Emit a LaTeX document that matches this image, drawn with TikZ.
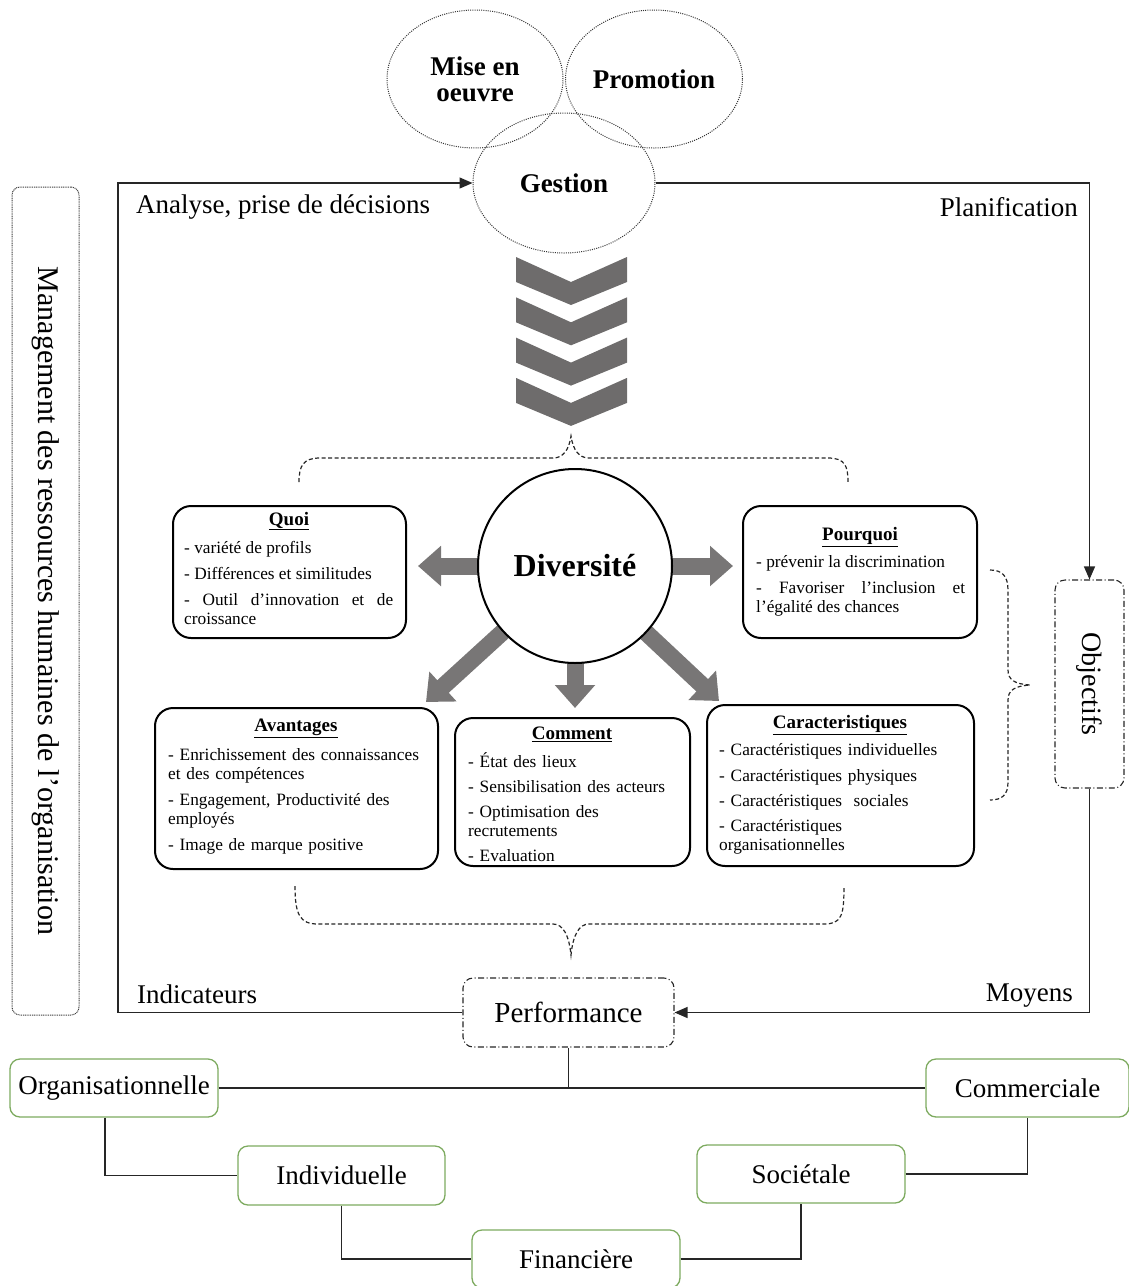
\documentclass[tikz,border=0pt]{standalone}
\usepackage{fontspec}
\setmainfont{Liberation Serif}
\usetikzlibrary{shapes.geometric,arrows.meta,calc}
\definecolor{chevgray}{RGB}{110,108,108}
\definecolor{arrgray}{RGB}{120,118,118}
\definecolor{boxgreen}{RGB}{125,170,95}
\begin{document}
\begin{tikzpicture}[x=1pt,y=-1pt,
  ell/.style={ellipse, draw=black!80, line width=1pt, dash pattern=on 1pt off 1.2pt, font=\fontsize{27}{28}\selectfont\bfseries, align=center, inner sep=0pt},
  loopline/.style={draw=black!85, line width=1.3pt},
  tipped/.style={-{Triangle[length=13pt,width=11pt]}},
  mgmt/.style={draw=black!75, line width=1pt, dash pattern=on 1pt off 0.8pt, rounded corners=8pt},
  ddbox/.style={draw=black!85, line width=1.1pt, dash pattern=on 6pt off 2.5pt on 1pt off 2.5pt, rounded corners=10pt},
  bracepath/.style={draw=black!85, line width=1.2pt, dash pattern=on 4pt off 2.5pt},
  infobox/.style={draw=black, line width=2pt, rounded corners=18pt},
  ttl/.style={font=\fontsize{19}{22}\selectfont\bfseries, inner sep=0pt},
  items/.style={font={\fontsize{17.3}{19}\selectfont\hyphenpenalty=10000\relax}, inner sep=0pt, anchor=north west},
  blockarr/.style={draw=arrgray, line width=17pt, -{Triangle[length=23pt,width=39pt]}},
  grbox/.style={draw=boxgreen, line width=1.3pt, rounded corners=10pt, minimum width=208pt, minimum height=58pt, font=\fontsize{27}{28}\selectfont},
  lbl/.style={font=\fontsize{27}{28}\selectfont, inner sep=0pt}
]
\useasboundingbox (0,0) rectangle (1129,1286);

% top ellipses
\node[ell, minimum width=176pt, minimum height=138pt] (mise) at (475,79) {Mise en\\[-2pt]oeuvre};
\node[ell, minimum width=177pt, minimum height=138pt] (promo) at (654,79) {Promotion};
\node[ell, minimum width=182pt, minimum height=140pt] (gest) at (564,183) {Gestion};

% management box
\node[mgmt, minimum width=67pt, minimum height=828pt] (mgmtbox) at (45.5,601) {};
\node[rotate=-90, font=\fontsize{30}{31}\selectfont] (mgmttxt) at (mgmtbox) {Management des ressources humaines de l’organisation};

% objectifs
\node[ddbox, minimum width=69pt, minimum height=208pt] (obj) at (1089.5,684) {};
\node[rotate=-90, font=\fontsize{28}{30}\selectfont] (objtxt) at (obj) {Objectifs};

% performance
\node[ddbox, minimum width=211pt, minimum height=69pt, font=\fontsize{29}{30}\selectfont] (perf) at (568.5,1012.5) {Performance};

% main loop
\draw[loopline, tipped] (perf.west) -- (118,1012.5) |- (gest.west);
\draw[loopline, tipped] (gest.east) -| (obj.north);
\draw[loopline, tipped] (obj.south) |- (perf.east);

% loop labels
\node[lbl, anchor=west] (analyse) at (136,207) {Analyse, prise de décisions};
\node[lbl, anchor=east] (planif) at (1078,207) {Planification};
\node[lbl, anchor=west] (indic) at (137,994) {Indicateurs};
\node[lbl, anchor=east] (moyens) at (1073,996) {Moyens};

% chevrons
\foreach \i in {0,...,3} {
  \fill[chevgray] (516,{257+40.3*\i}) -- (571,{282+40.3*\i}) -- (627,{257+40.3*\i}) -- (627,{282+40.3*\i}) -- (571,{305+40.3*\i}) -- (516,{282+40.3*\i}) -- cycle;
}

% braces
\draw[bracepath] (299,482) .. controls (299,466) and (303,458) .. (320,458) -- (553,458) .. controls (563,458) and (569,450) .. (571,436) .. controls (573,450) and (579,458) .. (589,458) -- (828,458) .. controls (845,458) and (848,466) .. (848,482);
\draw[bracepath] (295,886) .. controls (295,915) and (300,924) .. (318,924) -- (553,924) .. controls (563,924) and (569,935) .. (571,955) .. controls (573,935) and (579,924) .. (589,924) -- (824,924) .. controls (842,924) and (844,915) .. (844,886);
\draw[bracepath] (990,570) .. controls (1002,570) and (1008,576) .. (1008,590) -- (1008,670) .. controls (1008,680) and (1015,684) .. (1030,685) .. controls (1015,686) and (1008,690) .. (1008,700) -- (1008,782) .. controls (1008,795) and (1002,800) .. (990,800);

% block arrows from Diversite
\coordinate (aL) at (418,566);
\coordinate (aR) at (733,566);
\coordinate (aDL) at (426,702);
\coordinate (aD) at (575,708);
\coordinate (aDR) at (719,701);
\node[circle, minimum size=194pt, inner sep=0pt] (divpos) at (575,566) {};
\draw[blockarr] (divpos) -- (aL);
\draw[blockarr] (divpos) -- (aR);
\draw[blockarr] (divpos) -- (aDL);
\draw[blockarr] (divpos) -- (aD);
\draw[blockarr] (divpos) -- (aDR);
\node[circle, draw=black, line width=2pt, fill=white, minimum size=194pt, inner sep=0pt, font=\fontsize{32}{34}\selectfont\bfseries] (div) at (575,566) {Diversité};

% info boxes
\node[infobox, minimum width=233pt, minimum height=132pt] (quoi) at (289.5,572) {};
\node[ttl] (tquoi) at (289,521) {\underline{Quoi}};
\node[items, text width=209pt, align=justify] (iquoi) at (184,541) {- variété de profils\\[7pt]- Différences et similitudes\\[7pt]- Outil d’innovation et de croissance};

\node[infobox, minimum width=234pt, minimum height=132pt] (pourquoi) at (860,572) {};
\node[ttl] (tpourquoi) at (860,537) {\underline{Pourquoi}};
\node[items, text width=209pt, align=justify] (ipourquoi) at (756,555) {- prévenir la discrimination\\[7pt]- Favoriser l’inclusion et l’égalité des chances};

\node[infobox, minimum width=283pt, minimum height=161pt] (avant) at (296.5,788.5) {};
\node[ttl] (tavant) at (296,728) {\underline{Avantages}};
\node[items, text width=252pt, align=left] (iavant) at (168,748) {- Enrichissement des connaissances et des compétences\\[7pt]- Engagement, Productivité des employés\\[7pt]- Image de marque positive};

\node[infobox, minimum width=235pt, minimum height=148pt] (comment) at (572.5,792) {};
\node[ttl] (tcomment) at (572,734) {\underline{Comment}};
\node[items, text width=200pt, align=left] (icomment) at (468,752) {- État des lieux\\[6pt]- Sensibilisation des acteurs\\[6pt]- Optimisation des recrutements\\[6pt]- Evaluation};

\node[infobox, minimum width=267pt, minimum height=161pt] (carac) at (840.5,785.5) {};
\node[ttl] (tcarac) at (840,725) {\underline{Caracteristiques}};
\node[items, text width=228pt, align=left] (icarac) at (719,743) {- Caractéristiques individuelles\\[7pt]- Caractéristiques physiques\\[6pt]- Caractéristiques\ \ sociales\\[6pt]- Caractéristiques organisationnelles};

% performance dimensions
\node[grbox] (org) at (114,1088) {Organisationnelle};
\node[grbox, minimum width=203pt] (com) at (1027.5,1088) {Commerciale};
\node[grbox, minimum width=207pt, minimum height=59pt] (ind) at (341.5,1175.5) {Individuelle};
\node[grbox] (soc) at (801,1174) {Sociétale};
\node[grbox] (fin) at (576,1259) {Financière};

\draw[loopline] (org.east) -- (org.east -| com.west);
\draw[loopline] (perf.south) -- (perf.south |- org.east);
\draw[loopline] ([xshift=-9pt]org.south) |- (ind.west);
\draw[loopline] (ind.south) |- (fin.west);
\draw[loopline] (fin.east) -| (soc.south);
\draw[loopline] (soc.east) -| (com.south);
\end{tikzpicture}
\end{document}
